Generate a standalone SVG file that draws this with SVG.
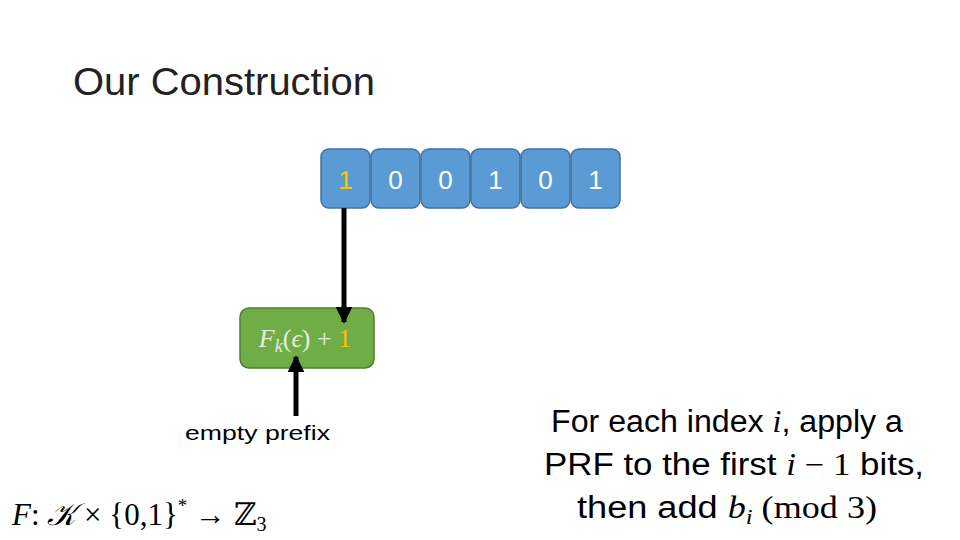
<svg xmlns="http://www.w3.org/2000/svg" width="960" height="540" viewBox="0 0 960 540">
<defs>
<style>
.bit{fill:#5B9BD5;stroke:#41719C;stroke-width:1.5}
.bt{font-family:"Liberation Sans",Arial,sans-serif;font-size:26px;fill:#FFFFFF;text-anchor:middle}
.sans{font-family:"Liberation Sans",Arial,sans-serif}
.math{font-family:"Liberation Serif","DejaVu Serif",serif}
.conn{stroke:#000;stroke-width:5;fill:none}
</style>
<marker id="ah" viewBox="0 0 10 10" refX="9" refY="5" markerWidth="3.4" markerHeight="3.4" orient="auto" markerUnits="strokeWidth">
<path d="M0,0 L10,5 L0,10 z" fill="#000"/>
</marker>
</defs>
<rect width="960" height="540" fill="#fff"/>
<text x="73" y="95" class="sans" font-size="38" fill="#222" textLength="302" lengthAdjust="spacingAndGlyphs">Our Construction</text>

<g id="bit1"><rect class="bit" x="321" y="149" width="49" height="59" rx="8"/><text class="bt" x="345.5" y="189" style="fill:#FFC000">1</text></g>
<g id="bit2"><rect class="bit" x="371" y="149" width="49" height="59" rx="8"/><text class="bt" x="395.5" y="189">0</text></g>
<g id="bit3"><rect class="bit" x="421" y="149" width="49" height="59" rx="8"/><text class="bt" x="445.5" y="189">0</text></g>
<g id="bit4"><rect class="bit" x="471" y="149" width="49" height="59" rx="8"/><text class="bt" x="495.5" y="189">1</text></g>
<g id="bit5"><rect class="bit" x="521" y="149" width="49" height="59" rx="8"/><text class="bt" x="545.5" y="189">0</text></g>
<g id="bit6"><rect class="bit" x="571" y="149" width="49" height="59" rx="8"/><text class="bt" x="595.5" y="189">1</text></g>

<g id="prf">
<rect x="240" y="308" width="134" height="60" rx="9" fill="#70AD47" stroke="#507E32" stroke-width="1.5"/>
<text x="305" y="347" class="math" font-size="26" fill="#E2F0D9" text-anchor="middle"><tspan font-style="italic">F</tspan><tspan font-style="italic" font-size="18" dy="5">k</tspan><tspan dy="-5">(</tspan><tspan font-style="italic">ϵ</tspan><tspan>) + </tspan><tspan fill="#FFC000">1</tspan></text>
</g>

<g id="connectors">
<line class="conn" x1="344" y1="208" x2="344" y2="322" marker-end="url(#ah)"/>
<line class="conn" x1="296" y1="416" x2="296" y2="357" marker-end="url(#ah)"/>
</g>

<g id="label-empty"><text x="185" y="440" class="sans" font-size="21" fill="#000" textLength="145" lengthAdjust="spacingAndGlyphs">empty prefix</text></g>

<g id="formula"><text x="12" y="525" class="math" font-size="31" fill="#000"><tspan font-style="italic">F</tspan>:  <tspan font-style="italic">𝒦</tspan> × {0,1}<tspan font-size="19" dy="-13">*</tspan><tspan dy="13"> → ℤ</tspan><tspan font-size="20" dy="6">3</tspan></text></g>

<g id="desc" class="sans" font-size="31" fill="#000" text-anchor="middle">
<text x="727" y="432" textLength="352" lengthAdjust="spacingAndGlyphs">For each index <tspan class="math" font-style="italic">i</tspan>, apply a</text>
<text x="734" y="475" textLength="380" lengthAdjust="spacingAndGlyphs">PRF to the first <tspan class="math" font-style="italic">i</tspan><tspan class="math">  −  1</tspan> bits,</text>
<text x="727" y="518" textLength="300" lengthAdjust="spacingAndGlyphs">then add <tspan class="math" font-style="italic">b</tspan><tspan class="math" font-style="italic" font-size="21" dy="6">i</tspan><tspan class="math" dy="-6">  (mod 3)</tspan></text>
</g>
</svg>
